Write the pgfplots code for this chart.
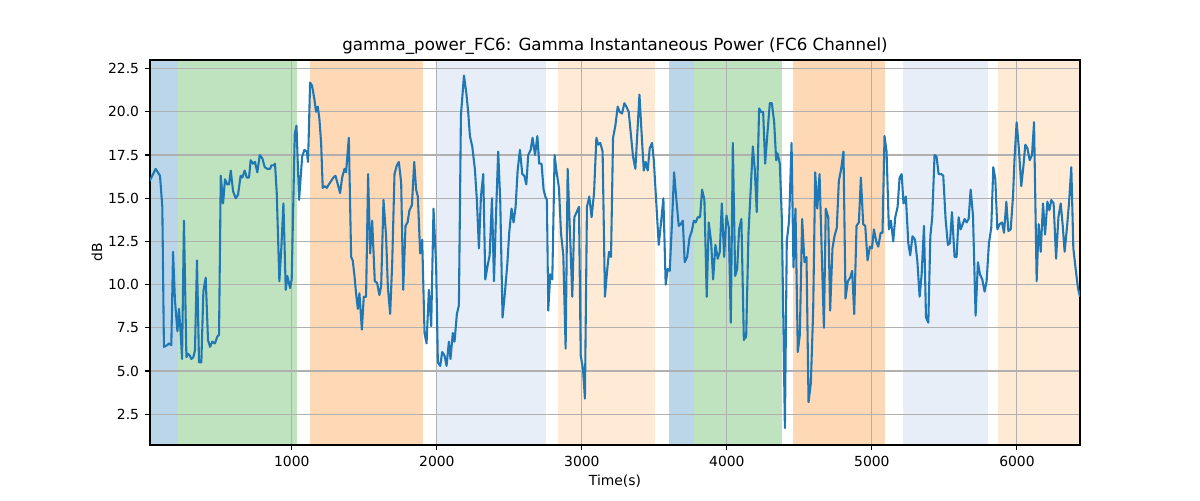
\documentclass[border=0pt]{standalone}
\usepackage{fontspec}
\setmainfont{DejaVu Sans}
\usepackage{pgfplots}
\pgfplotsset{compat=1.18}
\definecolor{tabblue}{HTML}{1F77B4}
\definecolor{tabgreen}{HTML}{2CA02C}
\definecolor{taborange}{HTML}{FF7F0E}
\definecolor{ltblue}{HTML}{AEC7E8}
\definecolor{ltorange}{HTML}{FFBB78}
\definecolor{gridgray}{HTML}{B0B0B0}
\pgfplotsset{spanfill/.style={draw=none, fill=#1, fill opacity=0.3, forget plot, on layer=axis background}}
\begin{document}
\begin{tikzpicture}
\path (0,0) rectangle (864pt,360pt);
\begin{axis}[
  set layers=standard,
  at={(108pt,39.6pt)}, anchor=south west,
  width=669.6pt, height=277.2pt, scale only axis,
  xmin=22, xmax=6435, ymin=0.72, ymax=23.0,
  xtick={1000,2000,3000,4000,5000,6000},
  ytick={2.5,5,7.5,10,12.5,15,17.5,20,22.5},
  scaled ticks=false,
  tick pos=left, tick align=outside, major tick length=3.5pt,
  tick style={black, line width=0.8pt},
  axis line style={line width=0.8pt},
  grid=major, grid style={color=gridgray, line width=0.8pt},
  /pgf/number format/assume math mode=true,
  xticklabel style={/pgf/number format/1000 sep={}, inner sep=0pt, anchor=north, yshift=-4.4pt, font=\fontsize{10}{12}\selectfont},
  yticklabel style={/pgf/number format/fixed, /pgf/number format/fixed zerofill, /pgf/number format/precision=1, inner sep=0pt, anchor=east, xshift=-4.2pt, font=\fontsize{10}{12}\selectfont},
  xlabel={Time(s)}, ylabel={dB},
  xlabel style={at={(axis description cs:0.5,-0.0935)}, anchor=center, inner sep=0pt, font=\fontsize{10}{12}\selectfont},
  ylabel style={at={(axis description cs:-0.057,0.5)}, anchor=center, inner sep=0pt, font=\fontsize{10}{12}\selectfont},
  title={gamma\_power\_FC6: Gamma Instantaneous Power (FC6 Channel)},
  title style={at={(axis description cs:0.5,1.0148)}, anchor=center, inner sep=0pt, font=\fontsize{12}{14}\selectfont},
]
\addplot[spanfill=tabblue] coordinates {(22,0.72) (217,0.72) (217,23) (22,23)} -- cycle;
\addplot[spanfill=tabgreen] coordinates {(217,0.72) (1034,0.72) (1034,23) (217,23)} -- cycle;
\addplot[spanfill=taborange] coordinates {(1128,0.72) (1906,0.72) (1906,23) (1128,23)} -- cycle;
\addplot[spanfill=ltblue] coordinates {(1998,0.72) (2755,0.72) (2755,23) (1998,23)} -- cycle;
\addplot[spanfill=ltorange] coordinates {(2833,0.72) (3502,0.72) (3502,23) (2833,23)} -- cycle;
\addplot[spanfill=tabblue] coordinates {(3601,0.72) (3772,0.72) (3772,23) (3601,23)} -- cycle;
\addplot[spanfill=tabgreen] coordinates {(3772,0.72) (4377,0.72) (4377,23) (3772,23)} -- cycle;
\addplot[spanfill=taborange] coordinates {(4455,0.72) (5088,0.72) (5088,23) (4455,23)} -- cycle;
\addplot[spanfill=ltblue] coordinates {(5214,0.72) (5798,0.72) (5798,23) (5214,23)} -- cycle;
\addplot[spanfill=ltorange] coordinates {(5870,0.72) (6435,0.72) (6435,23) (5870,23)} -- cycle;
\addplot[color=tabblue, line width=1.5pt, line join=round, mark=none] coordinates {
(20,16.0) (26,16.1) (61,16.7) (91,16.3) (107,14.5) (118,6.4) (141,6.5) (153,6.6) (169,6.5) (181,11.9)
(194,9.1) (211,7.3) (222,8.6) (234,7.1) (243,5.7) (256,13.7) (273,5.8) (284,6.0) (296,5.9) (307,5.7)
(321,5.8) (332,6.2) (346,11.4) (360,5.5) (376,5.5) (390,9.6) (406,10.4) (422,6.8) (436,6.4) (452,6.7)
(470,6.6) (486,7.0) (498,7.1) (510,16.3) (526,14.7) (539,16.1) (555,15.8) (567,15.8) (579,16.6) (595,15.4)
(613,15.0) (629,15.2) (647,16.3) (659,16.2) (675,16.6) (689,16.2) (705,16.2) (716,17.2) (733,17.0) (746,17.1)
(762,16.5) (779,17.5) (797,17.3) (813,16.8) (831,16.7) (850,16.7) (859,16.9) (873,16.9) (884,17.0) (896,15.3)
(914,10.2) (928,12.2) (942,14.7) (958,9.7) (969,10.5) (988,9.8) (999,10.3) (1020,18.7) (1032,19.2) (1050,14.9)
(1071,17.4) (1087,17.8) (1103,17.7) (1112,17.1) (1126,21.7) (1140,21.5) (1156,20.7) (1167,20.0) (1179,20.3) (1190,19.6)
(1202,18.2) (1213,15.6) (1227,15.7) (1241,15.6) (1255,15.8) (1271,16.0) (1287,16.2) (1301,16.3) (1317,15.8) (1333,15.3)
(1347,16.2) (1363,16.7) (1374,16.5) (1393,18.5) (1409,11.6) (1420,11.4) (1432,10.5) (1443,9.5) (1455,8.6) (1466,9.5)
(1483,7.4) (1496,9.3) (1512,9.3) (1526,16.4) (1540,11.8) (1554,13.7) (1572,10.2) (1588,10.1) (1604,9.4) (1616,9.9)
(1632,14.9) (1650,12.8) (1662,9.9) (1678,8.3) (1692,11.2) (1708,16.4) (1724,16.9) (1738,17.1) (1754,15.9) (1768,9.7)
(1784,13.4) (1798,13.6) (1811,14.3) (1828,14.6) (1844,17.1) (1857,15.5) (1869,15.1) (1885,11.8) (1899,12.6) (1915,7.2)
(1929,6.6) (1945,9.7) (1961,7.6) (1977,14.4) (1995,11.1) (2007,5.5) (2023,5.3) (2037,6.1) (2053,5.9) (2067,5.3)
(2083,6.7) (2094,5.7) (2110,7.2) (2122,6.7) (2138,8.3) (2152,8.8) (2166,19.8) (2187,22.1) (2203,21.1) (2216,20.0)
(2228,18.6) (2244,18.0) (2262,16.7) (2276,14.9) (2290,12.1) (2304,15.1) (2320,16.4) (2334,10.3) (2350,11.1) (2364,11.7)
(2380,15.0) (2394,10.2) (2407,13.8) (2423,17.7) (2437,14.9) (2453,8.1) (2469,9.5) (2486,11.2) (2499,13.0) (2515,14.4)
(2529,13.6) (2543,14.5) (2557,16.6) (2573,17.8) (2589,16.4) (2603,16.3) (2617,15.8) (2630,17.5) (2647,17.8) (2660,18.5)
(2677,17.5) (2693,18.6) (2706,17.0) (2722,17.0) (2736,15.5) (2748,15.1) (2759,14.9) (2768,8.5) (2782,10.6) (2796,10.3)
(2812,17.5) (2826,16.5) (2842,15.6) (2856,13.0) (2872,11.7) (2888,6.3) (2902,16.7) (2918,13.0) (2934,9.3) (2948,13.9)
(2964,14.2) (2980,14.5) (2992,5.9) (3008,5.1) (3021,3.4) (3035,14.5) (3051,15.1) (3067,13.9) (3084,15.3) (3100,18.5)
(3113,18.1) (3127,18.2) (3143,17.7) (3159,9.3) (3173,10.7) (3187,11.9) (3201,11.6) (3215,18.5) (3231,19.2) (3247,20.3)
(3261,20.0) (3277,19.9) (3293,20.5) (3307,20.3) (3323,20.0) (3339,18.6) (3353,17.4) (3369,16.7) (3397,21.0) (3413,18.6)
(3427,16.6) (3440,17.1) (3454,16.6) (3468,17.9) (3484,18.2) (3496,17.2) (3512,14.9) (3530,12.3) (3546,13.6) (3562,15.0)
(3578,10.0) (3592,10.9) (3606,10.8) (3622,13.7) (3636,16.5) (3652,14.9) (3668,13.4) (3682,13.5) (3696,13.7) (3709,11.3)
(3726,11.6) (3742,12.7) (3758,13.1) (3772,13.7) (3785,13.6) (3799,13.9) (3815,13.9) (3829,15.5) (3845,14.9) (3861,9.3)
(3875,13.6) (3891,12.5) (3905,10.3) (3921,12.3) (3937,11.5) (3951,11.9) (3965,14.7) (3981,11.6) (3997,14.0) (4013,13.3)
(4027,7.8) (4041,18.2) (4057,10.5) (4071,10.9) (4084,13.2) (4100,13.8) (4117,6.8) (4133,7.0) (4149,13.0) (4163,15.3)
(4179,18.0) (4192,16.7) (4206,14.2) (4222,20.2) (4236,20.0) (4250,20.0) (4264,17.0) (4280,18.8) (4296,20.5) (4310,20.5)
(4326,19.4) (4340,17.2) (4349,17.6) (4365,17.0) (4379,13.8) (4400,1.7) (4413,12.5) (4429,13.7) (4446,18.2) (4459,11.0)
(4473,14.4) (4489,6.1) (4503,7.1) (4519,13.8) (4535,11.3) (4549,11.6) (4563,3.2) (4579,4.3) (4595,8.5) (4609,16.5)
(4623,14.4) (4639,16.4) (4653,12.2) (4669,7.5) (4682,14.4) (4699,13.9) (4712,8.5) (4728,12.1) (4742,12.8) (4758,13.3)
(4772,16.0) (4788,16.7) (4804,17.7) (4818,9.2) (4834,10.2) (4850,10.4) (4864,10.8) (4878,8.3) (4894,13.4) (4910,13.6)
(4924,16.2) (4940,13.5) (4954,13.4) (4970,11.4) (4986,12.2) (5000,12.1) (5014,13.2) (5030,12.5) (5044,12.2) (5060,13.0)
(5073,13.0) (5087,18.6) (5101,17.7) (5117,13.2) (5131,13.7) (5147,12.5) (5161,13.9) (5177,14.5) (5191,16.2) (5205,16.4)
(5218,14.7) (5234,15.1) (5251,12.4) (5264,11.7) (5280,12.8) (5297,12.6) (5313,11.4) (5329,9.3) (5343,10.6) (5359,13.4)
(5373,8.1) (5389,7.8) (5403,12.8) (5416,13.9) (5432,17.5) (5446,17.4) (5460,16.4) (5478,16.4) (5492,16.3) (5508,13.8)
(5524,12.3) (5538,12.4) (5552,14.2) (5570,11.6) (5584,11.6) (5598,13.9) (5612,13.2) (5626,13.5) (5639,13.8) (5653,13.6)
(5667,13.8) (5681,15.5) (5697,14.0) (5715,8.2) (5731,11.3) (5745,10.6) (5761,10.3) (5777,9.6) (5791,10.2) (5807,12.4)
(5823,13.3) (5837,16.8) (5851,16.1) (5865,13.2) (5881,13.5) (5897,13.6) (5911,13.0) (5927,14.8) (5941,13.1) (5957,13.2)
(5973,15.1) (5984,17.4) (5998,19.4) (6014,17.8) (6030,15.7) (6044,16.8) (6058,18.1) (6072,17.9) (6088,17.2) (6104,17.5)
(6118,19.4) (6136,10.2) (6150,13.5) (6164,11.9) (6180,14.7) (6194,12.9) (6210,14.8) (6224,14.3) (6237,14.9) (6253,14.7)
(6270,11.5) (6286,13.9) (6302,14.7) (6316,13.4) (6329,11.9) (6346,13.4) (6359,14.7) (6375,16.8) (6389,12.1) (6405,10.9)
(6421,9.8) (6435,9.3)
};
\end{axis}
\end{tikzpicture}
\end{document}
